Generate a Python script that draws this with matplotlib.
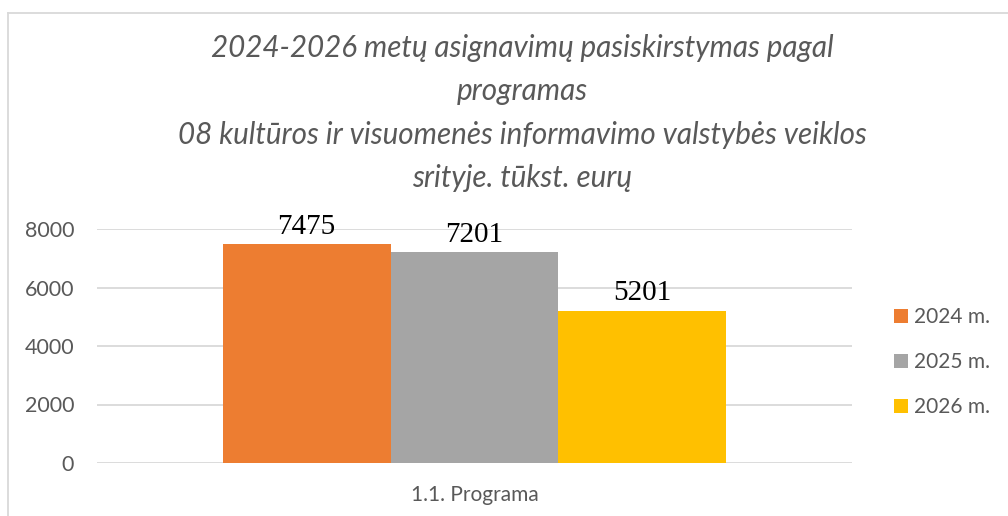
import matplotlib
matplotlib.use("Agg")
import matplotlib.pyplot as plt
from matplotlib.lines import Line2D
from matplotlib.patches import Patch

categories = ["1.1. Programa"]
series_names = ["2024 m.", "2025 m.", "2026 m."]
series_values = [[7475], [7201], [5201]]
colors = ["#ED7D31", "#A5A5A5", "#FFC000"]
yticks = [0, 2000, 4000, 6000, 8000]
title = ("2024-2026 metų asignavimų pasiskirstymas pagal\nprogramas\n"
         "08 kultūros ir visuomenės informavimo valstybės veiklos\nsrityje. tūkst. eurų")

W, H = 1008, 516
fig = plt.figure(figsize=(W / 100, H / 100), dpi=100)
fig.patch.set_facecolor("white")

def fx(px):
    return px / W

def fy(py):
    return 1 - py / H

ax = fig.add_axes([fx(97), fy(463), fx(852) - fx(97), fy(229) - fy(463)])
ax.set_xlim(-0.5, 0.5)
ax.set_ylim(0, 8000)

n = len(series_names)
bw = 0.667 / n
for i, (name, vals, c) in enumerate(zip(series_names, series_values, colors)):
    xs = [j - 0.667 / 2 + bw * (i + 0.5) for j in range(len(categories))]
    ax.bar(xs, vals, width=bw, color=c, label=name, zorder=3)
    for x, v in zip(xs, vals):
        ax.text(x, v + 150, str(v), ha="center", va="bottom",
                family="Liberation Serif", fontsize=21, color="black", zorder=4)

ax.set_yticks(yticks)
ax.set_yticklabels([str(t) for t in yticks], family="Lato", fontsize=15.5, color="#595959")
ax.tick_params(axis="y", length=0, pad=16.5)
ax.set_xticks([])
ax.grid(axis="y", color="#D9D9D9", linewidth=1.3, zorder=0)
for s in ax.spines.values():
    s.set_visible(False)
ax.set_facecolor("none")

fig.text(fx(475), fy(495), categories[0], ha="center", va="center",
         family="Lato", fontsize=15, color="#595959")

fig.text(fx(522), fy(113), title, ha="center", va="center", family="Lato",
         style="italic", fontsize=21.3, color="#595959", linespacing=1.68)

handles = [Patch(facecolor=c, edgecolor="none") for c in colors]
leg = fig.legend(handles, series_names, loc="center left",
                 bbox_to_anchor=(fx(894), fy(362)), frameon=False, borderpad=0,
                 borderaxespad=0,
                 prop={"family": "Lato", "size": 15}, labelcolor="#595959",
                 handlelength=0.67, handleheight=0.67, handletextpad=0.3,
                 labelspacing=1.2)

fig.add_artist(Line2D([fx(8), fx(8)], [fy(13), 0], color="#D9D9D9", linewidth=1.3))
fig.add_artist(Line2D([fx(8), 1], [fy(13), fy(13)], color="#D9D9D9", linewidth=1.3))

fig.savefig("out.png", dpi=100)
